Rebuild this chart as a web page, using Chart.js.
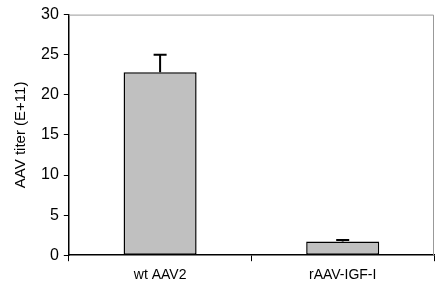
<!DOCTYPE html>
<html><head><meta charset="utf-8">
<script src="https://cdn.jsdelivr.net/npm/chart.js@4"></script>
<style>html,body{margin:0;padding:0;background:#fff}#w{width:446px;height:302px}</style>
</head><body><div id="w"><canvas id="c"></canvas></div>
<script>
const categories = ["wt AAV2", "rAAV-IGF-I"];
const titerValues = [22.8, 1.7];
const errorValues = [2.2, 0.2];
const yTicks = [0, 5, 10, 15, 20, 25, 30];

const errorBars = {
  id: 'errorBars',
  afterDatasetsDraw(chart) {
    const ctx = chart.ctx, meta = chart.getDatasetMeta(0), y = chart.scales.y;
    ctx.save();
    ctx.strokeStyle = '#000'; ctx.lineWidth = 2;
    meta.data.forEach((bar, i) => {
      const top = y.getPixelForValue(titerValues[i] + errorValues[i]);
      const base = y.getPixelForValue(titerValues[i]);
      ctx.beginPath();
      ctx.moveTo(bar.x, base); ctx.lineTo(bar.x, top);
      ctx.moveTo(bar.x - 6.5, top); ctx.lineTo(bar.x + 6.5, top);
      ctx.stroke();
    });
    ctx.restore();
  }
};
const frame = {
  id: 'frame',
  beforeDatasetsDraw(chart) {
    const a = chart.chartArea, ctx = chart.ctx;
    ctx.save(); ctx.strokeStyle = '#999'; ctx.lineWidth = 1;
    ctx.beginPath();
    ctx.moveTo(a.left, a.top + 0.5); ctx.lineTo(a.right - 0.5, a.top + 0.5); ctx.lineTo(a.right - 0.5, a.bottom);
    ctx.stroke(); ctx.restore();
  }
};

new Chart(document.getElementById('c'), {
  type: 'bar',
  data: { labels: categories, datasets: [{ data: titerValues, backgroundColor: '#c0c0c0', borderColor: '#000', borderWidth: 1.5, borderSkipped: false, barPercentage: 0.4, categoryPercentage: 1 }] },
  options: {
    responsive: true, maintainAspectRatio: false, animation: false,
    layout: { padding: { top: 8, right: 12, left: 8, bottom: 12 } },
    plugins: { legend: { display: false }, tooltip: { enabled: false } },
    scales: {
      x: {
        offset: true,
        grid: { offset: true, drawOnChartArea: false, color: '#000', tickLength: 6, tickColor: '#000' },
        border: { color: '#000', width: 1.5 },
        ticks: { color: '#000', font: { family: 'Liberation Sans, Arial', size: 14 }, padding: 6 }
      },
      y: {
        min: 0, max: 30,
        afterBuildTicks(s) { s.ticks = yTicks.map(v => ({ value: v })); },
        grid: { drawOnChartArea: false, tickLength: 5, tickColor: '#000' },
        border: { color: '#000', width: 1.5 },
        ticks: { color: '#000', font: { family: 'Liberation Sans, Arial', size: 16 }, padding: 5 },
        title: { display: true, text: 'AAV titer (E+11)', color: '#000', font: { family: 'Liberation Sans, Arial', size: 15 }, padding: { bottom: 6 } }
      }
    }
  },
  plugins: [frame, errorBars]
});
</script></body></html>
